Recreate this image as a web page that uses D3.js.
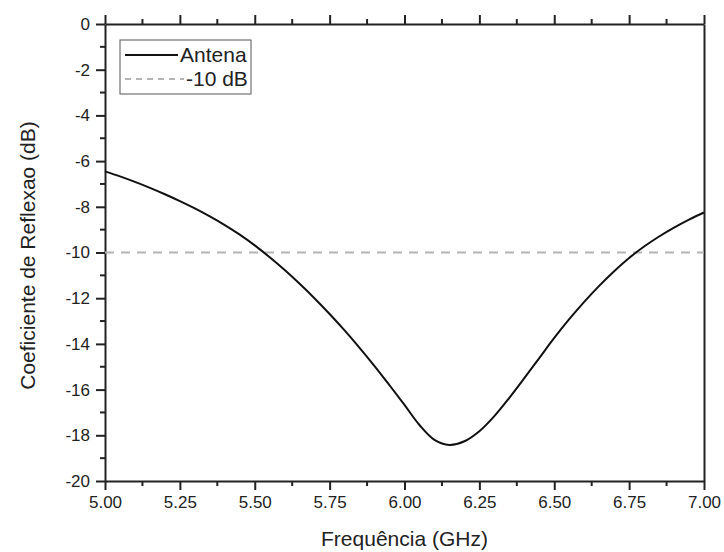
<!DOCTYPE html>
<html><head><meta charset="utf-8">
<script src="https://cdn.jsdelivr.net/npm/d3@7"></script>
<style>body{margin:0;background:#fff}svg{display:block}text{font-family:"Liberation Sans",Arial,sans-serif;fill:#222}</style>
</head><body><svg id="c" width="724" height="552"></svg>
<script>
const freq = [5.00,5.05,5.10,5.15,5.20,5.25,5.30,5.35,5.40,5.45,5.50,5.55,5.60,5.65,5.70,5.75,5.80,5.85,5.90,5.95,6.00,6.05,6.10,6.15,6.20,6.25,6.30,6.35,6.40,6.45,6.50,6.55,6.60,6.65,6.70,6.75,6.80,6.85,6.90,6.95,7.00];
const s11  = [-6.45,-6.67,-6.91,-7.17,-7.45,-7.75,-8.07,-8.42,-8.80,-9.22,-9.69,-10.21,-10.77,-11.37,-12.01,-12.69,-13.41,-14.17,-14.97,-15.81,-16.67,-17.55,-18.2,-18.42,-18.26,-17.82,-17.16,-16.36,-15.50,-14.62,-13.74,-12.92,-12.16,-11.46,-10.82,-10.24,-9.74,-9.30,-8.91,-8.56,-8.25];
const refLevel = -10;
const xTicks = [5.00,5.25,5.50,5.75,6.00,6.25,6.50,6.75,7.00];
const yTicks = [0,-2,-4,-6,-8,-10,-12,-14,-16,-18,-20];
const seriesNames = ["Antena","-10 dB"];
const xTitle = "Frequência (GHz)";
const yTitle = "Coeficiente de Reflexao (dB)";

const svg = d3.select("#c");
const L=105,R=704,T=24,B=481;
const x = d3.scaleLinear().domain([5,7]).range([L,R]);
const y = d3.scaleLinear().domain([-20,0]).range([B,T]);
const axisCol="#222";

const xMinor = d3.range(0,8).map(i=>5.125+i*0.25);
const yMinor = d3.range(0,10).map(i=>-1-2*i);

const gx = svg.append("g").attr("transform",`translate(0,${B})`)
  .call(d3.axisBottom(x).tickValues(xTicks).tickFormat(d=>d.toFixed(2)).tickSize(9).tickPadding(6).tickSizeOuter(0));
gx.selectAll("text").style("font-size","17px");
gx.append("g").selectAll("line").data(xMinor).join("line").attr("x1",d=>x(d)).attr("x2",d=>x(d)).attr("y1",0).attr("y2",5);
const gt = svg.append("g").attr("transform",`translate(0,${T})`)
  .call(d3.axisTop(x).tickValues(xTicks).tickFormat("").tickSize(9).tickSizeOuter(0));
gt.append("g").selectAll("line").data(xMinor).join("line").attr("x1",d=>x(d)).attr("x2",d=>x(d)).attr("y1",0).attr("y2",-5);
const gy = svg.append("g").attr("transform",`translate(${L},0)`)
  .call(d3.axisLeft(y).tickValues(yTicks).tickFormat(d=>String(d)).tickSize(9).tickPadding(6).tickSizeOuter(0));
gy.selectAll("text").style("font-size","17px");
gy.append("g").selectAll("line").data(yMinor).join("line").attr("y1",d=>y(d)).attr("y2",d=>y(d)).attr("x1",0).attr("x2",-5);
svg.append("g").attr("transform",`translate(${R},0)`)
  .call(d3.axisRight(y).tickValues([]).tickSizeOuter(0));

svg.selectAll(".domain, .tick line").attr("stroke",axisCol).attr("stroke-width",2);
svg.selectAll("g g line").attr("stroke",axisCol).attr("stroke-width",2);
svg.selectAll(".tick text").attr("fill","#222");

svg.append("line").attr("x1",x(5)).attr("x2",x(7)).attr("y1",y(refLevel)).attr("y2",y(refLevel))
  .attr("stroke","#b4b4b4").attr("stroke-width",2).attr("stroke-dasharray","9,7");

const data = freq.map((f,i)=>[f,s11[i]]);
svg.append("path").datum(data)
  .attr("d",d3.line().x(d=>x(d[0])).y(d=>y(d[1])).curve(d3.curveCatmullRom.alpha(0.5)))
  .attr("fill","none").attr("stroke","#111").attr("stroke-width",2);

const lg = svg.append("g");
lg.append("rect").attr("x",120).attr("y",40).attr("width",131).attr("height",54)
  .attr("fill","#fff").attr("stroke","#555").attr("stroke-width",1);
lg.append("line").attr("x1",125).attr("x2",178).attr("y1",55).attr("y2",55).attr("stroke","#111").attr("stroke-width",2);
lg.append("line").attr("x1",125).attr("x2",184).attr("y1",79).attr("y2",79).attr("stroke","#b4b4b4").attr("stroke-width",2).attr("stroke-dasharray","6,5");
lg.append("text").attr("x",180).attr("y",62).style("font-size","21px").text(seriesNames[0]);
lg.append("text").attr("x",186).attr("y",86).style("font-size","21px").text(seriesNames[1]);

svg.append("text").attr("x",(L+R)/2).attr("y",546).attr("text-anchor","middle").style("font-size","21px").text(xTitle);
svg.append("text").attr("transform",`translate(35,${(T+B)/2+3}) rotate(-90)`).attr("text-anchor","middle").style("font-size","21px").text(yTitle);
</script></body></html>
